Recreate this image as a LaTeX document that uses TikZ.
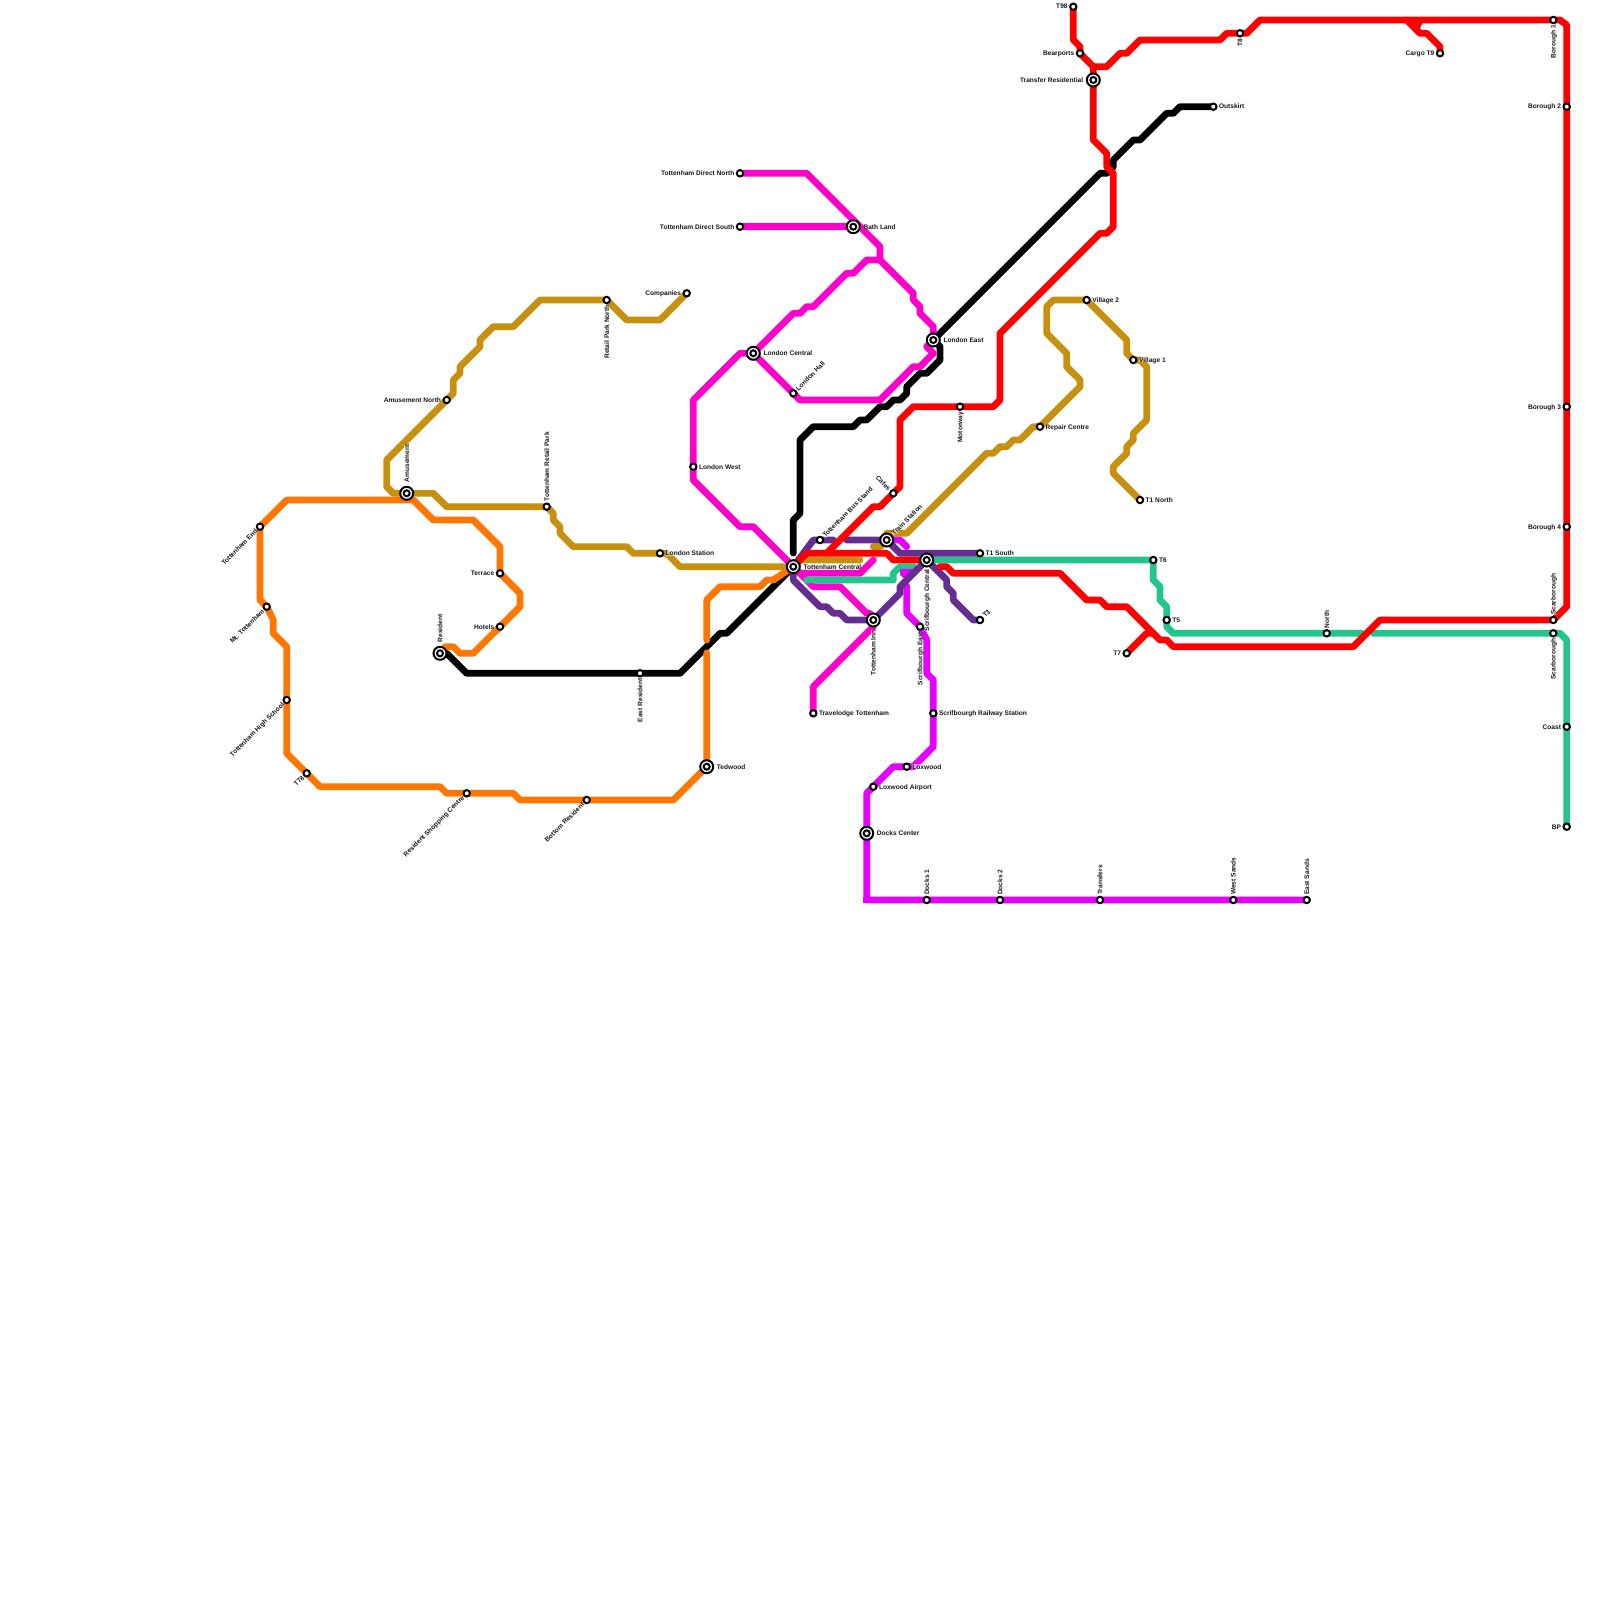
\documentclass[tikz,border=0pt]{standalone}
\usepackage{fontspec}
\setmainfont{Liberation Sans}
\definecolor{cRed}{HTML}{FF0000}
\definecolor{cGold}{HTML}{C8900F}
\definecolor{cOrange}{HTML}{FF7700}
\definecolor{cTeal}{HTML}{23C58C}
\definecolor{cHot}{HTML}{FF00CC}
\definecolor{cViolet}{HTML}{E600FF}
\definecolor{cPurple}{HTML}{662D91}
\tikzset{
 metro/.style={line width=6.8pt,line join=round,line cap=round},
 stn/.style={circle,draw=black,fill=white,line width=2pt,minimum size=6.4pt,inner sep=0pt},
 xo/.style={circle,draw=black,fill=white,line width=2pt,minimum size=13pt,inner sep=0pt},
 xi/.style={circle,draw=black,fill=white,line width=2pt,minimum size=6pt,inner sep=0pt},
 lab/.style={inner sep=0pt,fill=white,fill opacity=.55,text opacity=1,text height=4.6pt,text depth=0pt,font=\fontsize{6.6}{7.5}\selectfont\bfseries,text=black!90}
}
% station macros
\newcommand\St[3]{\coordinate (#1) at (#2,#3);}
\newcommand\Sm[1]{\node[stn] (n#1) at (#1) {};}
\newcommand\Xc[1]{\node[xo] (n#1) at (#1) {};\node[xi] (m#1) at (#1) {};}
% labels: optional offset, station, text
\newcommand\LR[3][5.5]{\node[lab,anchor=west,xshift=#1pt] (t#2) at (#2) {#3};}
\newcommand\LL[3][5.5]{\node[lab,anchor=east,xshift=-#1pt] (t#2) at (#2) {#3};}
\newcommand\LU[3][5]{\node[lab,yshift=#1pt,rotate=90,anchor=west] (t#2) at (#2) {#3};}
\newcommand\LD[3][5]{\node[lab,yshift=-#1pt,rotate=90,anchor=east] (t#2) at (#2) {#3};}
\newcommand\LNE[3][3.5]{\node[lab,xshift=#1pt,yshift=#1pt,rotate=45,anchor=west] (t#2) at (#2) {#3};}
\newcommand\LSW[3][3.5]{\node[lab,xshift=-#1pt,yshift=-#1pt,rotate=45,anchor=east] (t#2) at (#2) {#3};}
\newcommand\LNW[3][3.5]{\node[lab,xshift=-#1pt,yshift=#1pt,rotate=-45,anchor=east] (t#2) at (#2) {#3};}
\begin{document}
\begin{tikzpicture}[x=1pt,y=-1pt]
\useasboundingbox (0,0) rectangle (1600,1600);
\fill[white] (0,0) rectangle (1600,1600);
% stations
\St{Central}{793.3}{566.7}\St{BusStand}{820}{540}\St{TrainSt}{886.7}{540}\St{ScrifC}{926.7}{560}
\St{TSouth}{980}{553.3}\St{TThree}{980}{620}\St{Inn}{873.3}{620}\St{ScrifE}{920}{626.7}\St{Cafes}{893.3}{493.3}
\St{TNinetyEight}{1073.3}{6.7}\St{Bearports}{1080}{53.3}\St{Transfer}{1093.3}{80}\St{Outskirt}{1213.3}{106.7}
\St{TEight}{1240}{33.3}\St{CargoNine}{1440}{53.3}\St{BoroOne}{1553.3}{20}\St{BoroTwo}{1566.7}{106.7}
\St{BoroThree}{1566.7}{406.7}\St{BoroFour}{1566.7}{526.7}\St{ScarA}{1553.3}{620}\St{ScarB}{1553.3}{633.3}
\St{Coast}{1566.7}{726.7}\St{BP}{1566.7}{826.7}\St{North}{1326.7}{633.3}\St{TSix}{1153.3}{560}\St{TFive}{1166.7}{620}
\St{TSeven}{1126.7}{653.3}\St{Motorway}{960}{406.7}\St{LondonEast}{933.3}{340}\St{LondonHall}{793.3}{393.3}
\St{LondonCentral}{753.3}{353.3}\St{LondonWest}{693.3}{466.7}\St{BathLand}{853.3}{226.7}\St{DirectN}{740}{173.3}\St{DirectS}{740}{226.7}
\St{Companies}{686.7}{293.3}\St{RetailN}{606.7}{300}\St{AmuseN}{446.7}{400}\St{Amusement}{406.7}{493.3}\St{RetailPark}{546.7}{506.7}
\St{LondonSt}{660}{553.3}\St{Resident}{440}{653.3}\St{EastRes}{640}{673.3}\St{TotEnd}{260}{526.7}\St{MtTot}{266.7}{606.7}
\St{HighSch}{286.7}{700}\St{TSeventyEight}{306.7}{773.3}\St{ShopCentre}{466.7}{793.3}\St{BottomRes}{586.7}{800}\St{Tedwood}{706.7}{766.7}
\St{Terrace}{500}{573.3}\St{Hotels}{500}{626.7}\St{RepairC}{1040}{426.7}\St{VillageTwo}{1086.7}{300}\St{VillageOne}{1133.3}{360}\St{TNorth}{1140}{500}
\St{Travelodge}{813.3}{713.3}\St{RailSt}{933.3}{713.3}\St{Loxwood}{906.7}{766.7}\St{LoxAir}{873.3}{786.7}\St{Docks}{866.7}{833.3}
\St{DocksOne}{926.7}{900}\St{DocksTwo}{1000}{900}\St{Transfers}{1100}{900}\St{WestSands}{1233.3}{900}\St{EastSands}{1306.7}{900}
% black
\draw[metro,black] (Resident) -- (446.7,653.3) -- (466.7,673.3) -- (EastRes) -- (680,673.3) -- (720,633.3) -- (726.7,633.3) -- (Central);
\draw[metro,black] (793.3,553) -- (793.3,520) -- (800,513.3) -- (800,440) -- (813.3,426.7) -- (853.3,426.7) -- (860,420) -- (866.7,420) -- (880,406.7) -- (886.7,406.7) -- (893.3,400) -- (900,400) -- (906.7,393.3) -- (906.7,386.7) -- (920,373.3) -- (926.7,373.3) -- (940,360) -- (940,346.7) -- (LondonEast) -- (1100,173.3) -- (1106.7,173.3) -- (1113.3,166.7) -- (1113.3,160) -- (1133.3,140) -- (1140,140) -- (1166.7,113.3) -- (1173.3,113.3) -- (1180,106.7) -- (Outskirt);
% gold
\draw[metro,cGold] (Companies) -- (660,320) -- (626.7,320) -- (RetailN) -- (540,300) -- (513.3,326.7) -- (493.3,326.7) -- (480,340) -- (480,346.7) -- (460,366.7) -- (460,373.3) -- (453.3,380) -- (453.3,393.3) -- (AmuseN) -- (386.7,460) -- (386.7,486.7) -- (393.3,493.3) -- (Amusement) -- (433.3,493.3) -- (446.7,506.7) -- (RetailPark) -- (553.3,513.3) -- (553.3,520) -- (560,526.7) -- (560,533.3) -- (573.3,546.7) -- (626.7,546.7) -- (633.3,553.3) -- (LondonSt) -- (666.7,553.3) -- (680,566.7) -- (Central) -- (800,560) -- (860,560);
\draw[metro,cGold] (873.3,546.7) -- (880,546.7) -- (TrainSt) -- (886.7,533.3) -- (906.7,533.3) -- (986.7,453.3) -- (993.3,453.3) -- (1000,446.7) -- (1006.7,446.7) -- (1013.3,440) -- (1020,440) -- (1033.3,426.7) -- (RepairC) -- (1080,386.7) -- (1080,380) -- (1066.7,366.7) -- (1066.7,353.3) -- (1046.7,333.3) -- (1046.7,306.7) -- (1053.3,300) -- (VillageTwo) -- (1126.7,340) -- (1126.7,353.3) -- (VillageOne) -- (1140,360) -- (1146.7,366.7) -- (1146.7,420) -- (1133.3,433.3) -- (1133.3,440) -- (1126.7,446.7) -- (1126.7,453.3) -- (1113.3,466.7) -- (1113.3,473.3) -- (TNorth);
% orange
\draw[metro,cOrange] (413.3,500) -- (286.7,500) -- (TotEnd) -- (260,600) -- (MtTot) -- (273.3,620) -- (273.3,633.3) -- (286.7,646.7) -- (HighSch) -- (286.7,753.3) -- (TSeventyEight) -- (320,786.7) -- (440,786.7) -- (446.7,793.3) -- (ShopCentre) -- (513.3,793.3) -- (520,800) -- (BottomRes) -- (673.3,800) -- (Tedwood) -- (706.7,653);
\draw[metro,cOrange] (413.3,500) -- (433.3,520) -- (473.3,520) -- (500,546.7) -- (Terrace) -- (520,593.3) -- (520,606.7) -- (Hotels) -- (473.3,653.3) -- (460,653.3) -- (453.3,646.7) -- (445,646.7);
\draw[metro,cOrange] (706.7,640) -- (706.7,600) -- (720,586.7) -- (760,586.7) -- (766.7,580) -- (773.3,580) -- (Central);
% hot magenta
\draw[metro,cHot] (DirectN) -- (806.7,173.3) -- (880,246.7) -- (880,260) -- (913.3,293.3) -- (913.3,300) -- (920,306.7) -- (920,313.3) -- (933.3,326.7) -- (LondonEast) -- (926.7,346.7) -- (933.3,353.3) -- (920,366.7) -- (913.3,366.7) -- (880,400) -- (800,400) -- (LondonHall) -- (LondonCentral) -- (740,353.3) -- (693.3,400) -- (LondonWest) -- (693.3,480) -- (740,526.7) -- (753.3,526.7) -- (Central);
\draw[metro,cHot] (DirectS) -- (BathLand);
\draw[metro,cHot] (LondonCentral) -- (793.3,313.3) -- (800,313.3) -- (806.7,306.7) -- (813.3,306.7) -- (846.7,273.3) -- (853.3,273.3) -- (866.7,260) -- (880,260);
\draw[metro,cHot] (Central) -- (800,573.3) -- (860,573.3) -- (873.3,560);
\draw[metro,cHot] (Central) -- (813.3,586.7) -- (840,586.7) -- (866.7,613.3) -- (870,613.3) -- (Inn);
\draw[metro,cHot] (Inn) -- (873.3,626.7) -- (813.3,686.7) -- (Travelodge);
% teal
\draw[metro,cTeal] (806.7,580) -- (893.3,580) -- (893.3,573.3) -- (900,566.7) -- (913.3,566.7);
\draw[metro,cTeal] (ScrifC) -- (TSix) -- (1153.3,580) -- (1160,586.7) -- (1160,600) -- (1166.7,606.7) -- (TFive) -- (1166.7,626.7) -- (1173.3,633.3) -- (North) -- (1361.7,633.3);
\draw[metro,cTeal] (1373.3,633.3) -- (ScarB) -- (1560,633.3) -- (1566.7,640) -- (Coast) -- (BP);
% violet
\draw[metro,cViolet] (TrainSt) -- (900,540) -- (906.7,546.7);
\fill[cViolet] (900,569) -- (913,569) -- (914,575) -- (907,581) -- (900,575) -- cycle;
\draw[metro,cViolet] (906.7,586) -- (906.7,613.3) -- (ScrifE) -- (926.7,640) -- (926.7,673.3) -- (933.3,680) -- (RailSt) -- (933.3,746.7) -- (913.3,766.7) -- (Loxwood) -- (893.3,766.7) -- (866.7,793.3) -- (Docks) -- (866.7,900) -- (DocksOne) -- (DocksTwo) -- (Transfers) -- (WestSands) -- (EastSands);
\fill[cViolet] (863.3,896.6) rectangle (870.1,903.4);
% purple
\draw[metro,cPurple] (Central) -- (813.3,540) -- (BusStand) -- (833.3,540);
\draw[metro,cPurple] (846.7,540) -- (TrainSt) -- (900,553.3) -- (TSouth);
\draw[metro,cPurple] (Central) -- (793.3,580) -- (820,606.7) -- (826.7,606.7) -- (833.3,613.3) -- (840,613.3) -- (846.7,620) -- (Inn) -- (900,593.3) -- (900,586.7) -- (906.7,580) -- (ScrifC) -- (946.7,580) -- (946.7,586.7) -- (953.3,593.3) -- (953.3,600) -- (973.3,620) -- (TThree);
% red
\draw[metro,cRed] (Central) -- (806.7,553.3) -- (886.7,553.3) -- (893.3,560) -- (ScrifC);
\draw[metro,cRed] (940,566.7) -- (946.7,566.7) -- (953.3,573.3) -- (1060,573.3) -- (1086.7,600) -- (1100,600) -- (1106.7,606.7) -- (1126.7,606.7) -- (1160,640) -- (1166.7,640) -- (1173.3,646.7) -- (1353.3,646.7) -- (1380,620) -- (ScarA) -- (1566.7,606.7) -- (BoroFour) -- (BoroThree) -- (BoroTwo) -- (1566.7,25) -- (1560,20) -- (BoroOne) -- (1260,20) -- (1246.7,33.3) -- (TEight) -- (1226.7,33.3) -- (1220,40) -- (1140,40) -- (1126.7,53.3) -- (1120,53.3) -- (1106.7,66.7) -- (1093.3,66.7);
\draw[metro,cRed] (TNinetyEight) -- (1073.3,40) -- (1080,46.7) -- (Bearports) -- (1093.3,66.7) -- (Transfer) -- (1093.3,140) -- (1106.7,153.3) -- (1106.7,166.7) -- (1113.3,173.3) -- (1113.3,226.7) -- (1106.7,233.3) -- (1100,233.3) -- (1000,333.3) -- (1000,400) -- (993.3,406.7) -- (Motorway) -- (913.3,406.7) -- (900,420) -- (900,486.7) -- (Cafes) -- (880,506.7) -- (873.3,506.7) -- (826.7,553.3);
\draw[metro,cRed] (TSeven) -- (1146.7,633.3) -- (1153.3,633.3);
\draw[metro,cRed] (1406.7,20) -- (1420,33.3) -- (1426.7,33.3) -- (1440,46.7) -- (CargoNine);
\fill[cRed] (1406,20) -- (1424,20) -- (1418,32) -- cycle;
% station symbols
\foreach \s in {BusStand,TSouth,TThree,ScrifE,Cafes,TNinetyEight,Bearports,Outskirt,TEight,CargoNine,BoroOne,BoroTwo,BoroThree,BoroFour,ScarA,ScarB,Coast,BP,North,TSix,TFive,TSeven,Motorway,LondonHall,LondonWest,DirectN,DirectS,Companies,RetailN,AmuseN,RetailPark,LondonSt,EastRes,TotEnd,MtTot,HighSch,TSeventyEight,ShopCentre,BottomRes,Terrace,Hotels,RepairC,VillageTwo,VillageOne,TNorth,Travelodge,RailSt,Loxwood,LoxAir,DocksOne,DocksTwo,Transfers,WestSands,EastSands}{\Sm{\s}}
\foreach \s in {Central,TrainSt,ScrifC,Inn,Transfer,LondonEast,LondonCentral,BathLand,Amusement,Resident,Tedwood,Docks}{\Xc{\s}}
% labels
\LR[10]{Central}{Tottenham Central}
\LNE{BusStand}{Tottenham Bus Stand}
\LNE[6]{TrainSt}{Train Station}
\LD[9]{ScrifC}{Scrifbourgh Central}
\LR{TSouth}{T1 South}
\LNE{TThree}{T3}
\LD[10]{Inn}{Tottenham Inn}
\LD{ScrifE}{Scrifbourgh East}
\LNW{Cafes}{Cafes}
\LL{TNinetyEight}{T98}
\LL{Bearports}{Bearports}
\LL[10]{Transfer}{Transfer Residential}
\LR{Outskirt}{Outskirt}
\LD{TEight}{T8}
\LL{CargoNine}{Cargo T9}
\LD{BoroOne}{Borough 1}
\LL{BoroTwo}{Borough 2}
\LL{BoroThree}{Borough 3}
\LL{BoroFour}{Borough 4}
\LU{ScarA}{Scarborough}
\LD{ScarB}{Scarborough}
\LL{Coast}{Coast}
\LL{BP}{BP}
\LU{North}{North}
\LR{TSix}{T6}
\LR{TFive}{T5}
\LL{TSeven}{T7}
\LD{Motorway}{Motorway}
\LR[10]{LondonEast}{London East}
\LNE{LondonHall}{London Hall}
\LR[10]{LondonCentral}{London Central}
\LR{LondonWest}{London West}
\LR[10]{BathLand}{Bath Land}
\LL{DirectN}{Tottenham Direct North}
\LL{DirectS}{Tottenham Direct South}
\LL{Companies}{Companies}
\LD{RetailN}{Retail Park North}
\LL{AmuseN}{Amusement North}
\LU[11]{Amusement}{Amusement}
\LU{RetailPark}{Tottenham Retail Park}
\LR{LondonSt}{London Station}
\LU[11]{Resident}{Resident}
\LD{EastRes}{East Resident}
\LSW{TotEnd}{Tottenham End}
\LSW{MtTot}{Mt. Tottenham}
\LSW{HighSch}{Tottenham High School}
\LSW{TSeventyEight}{T78}
\LSW{ShopCentre}{Resident Shopping Centre}
\LSW{BottomRes}{Bottom Resident}
\LR[10]{Tedwood}{Tedwood}
\LL{Terrace}{Terrace}
\LL{Hotels}{Hotels}
\LR{RepairC}{Repair Centre}
\LR{VillageTwo}{Village 2}
\LR{VillageOne}{Village 1}
\LR{TNorth}{T1 North}
\LR{Travelodge}{Travelodge Tottenham}
\LR{RailSt}{Scrifbourgh Railway Station}
\LR{Loxwood}{Loxwood}
\LR{LoxAir}{Loxwood Airport}
\LR[10]{Docks}{Docks Center}
\LU{DocksOne}{Docks 1}
\LU{DocksTwo}{Docks 2}
\LU{Transfers}{Transfers}
\LU{WestSands}{West Sands}
\LU{EastSands}{East Sands}
\end{tikzpicture}
\end{document}
